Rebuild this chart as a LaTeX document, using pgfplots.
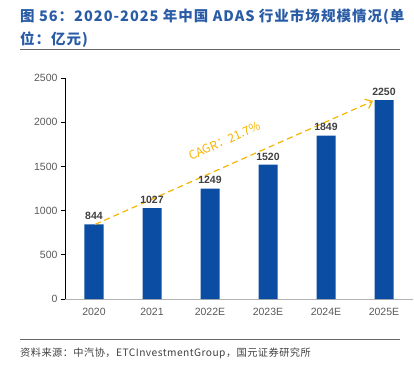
\documentclass[border=0pt]{standalone}
\usepackage{pgfplots}
\pgfplotsset{compat=1.18}
\usepackage{fontspec}
\setmainfont{Liberation Sans}
\newfontfamily\cjk{Noto Sans CJK SC}
\newfontfamily\cjkt{Noto Sans CJK SC}[LetterSpace=7]
\newfontfamily\cjks{Noto Sans CJK SC}[LetterSpace=4.5]
\usetikzlibrary{arrows.meta}
\definecolor{barblue}{HTML}{0B4DA2}
\definecolor{titleblue}{HTML}{2A5CA6}
\definecolor{cagr}{HTML}{F5B400}
\definecolor{txtgray}{HTML}{595959}
\definecolor{lblgray}{HTML}{404040}
\begin{document}
\begin{tikzpicture}
\useasboundingbox (0,0) rectangle (414bp,-373bp);
\node[anchor=west, inner sep=0pt, text=titleblue, font=\cjkt\bfseries\fontsize{14.5bp}{16bp}\selectfont] at (20bp,-17bp) {图 56：2020-2025 年中国 ADAS 行业市场规模情况(单};
\node[anchor=west, inner sep=0pt, text=titleblue, font=\cjkt\bfseries\fontsize{14.5bp}{16bp}\selectfont] at (20bp,-40bp) {位：亿元)};
\draw[gray!80!black, line width=0.8bp] (20bp,-49bp) -- (400bp,-49bp);
\draw[gray!80!black, line width=0.8bp] (20bp,-339bp) -- (400bp,-339bp);
\node[anchor=west, inner sep=0pt, text=lblgray, font=\cjks\fontsize{10.2bp}{12bp}\selectfont] at (20bp,-353bp) {资料来源：中汽协，ETCInvestmentGroup，国元证券研究所};
\begin{axis}[
  at={(65bp,-299bp)}, anchor=south west,
  scale only axis, width=348bp, height=221bp,
  xmin=-0.5, xmax=5.5, ymin=0, ymax=2500,
  axis x line=bottom, axis y line=left,
  x axis line style={-, draw=gray!60, line width=0.8bp},
  y axis line style={-, draw=black, line width=0.8bp},
  xtick=data, xticklabels={2020,2021,2022E,2023E,2024E,2025E},
  major x tick style={draw=none},
  ytick={0,500,1000,1500,2000,2500},
  y tick style={draw=black, line width=0.8bp},
  tick align=outside, major tick length=4bp,
  tick label style={font=\fontsize{10.5bp}{12bp}\selectfont, text=txtgray},
  /pgf/number format/assume math mode=true,
  /pgf/number format/1000 sep={},
  xticklabel style={yshift=-2bp},
  ybar, bar width=19bp,
  nodes near coords,
  every node near coord/.append style={font=\bfseries\fontsize{10.5bp}{12bp}\selectfont, text=lblgray, yshift=1bp, /pgf/number format/1000 sep={}},
  clip=false,
]
\addplot[fill=barblue, draw=none] coordinates {(0,844) (1,1027) (2,1249) (3,1520) (4,1849) (5,2250)};
\draw[cagr, line width=1.2bp, dash pattern=on 6bp off 4bp, -{Straight Barb[length=6bp,width=10bp]}] (axis cs:0.02,844) -- (axis cs:4.81,2240);
\node[text=cagr, rotate=24, font=\cjk\fontsize{12bp}{13bp}\selectfont, inner sep=0pt] at (axis cs:2.25,1790) {CAGR：21.7\%};
\end{axis}
\end{tikzpicture}
\end{document}
